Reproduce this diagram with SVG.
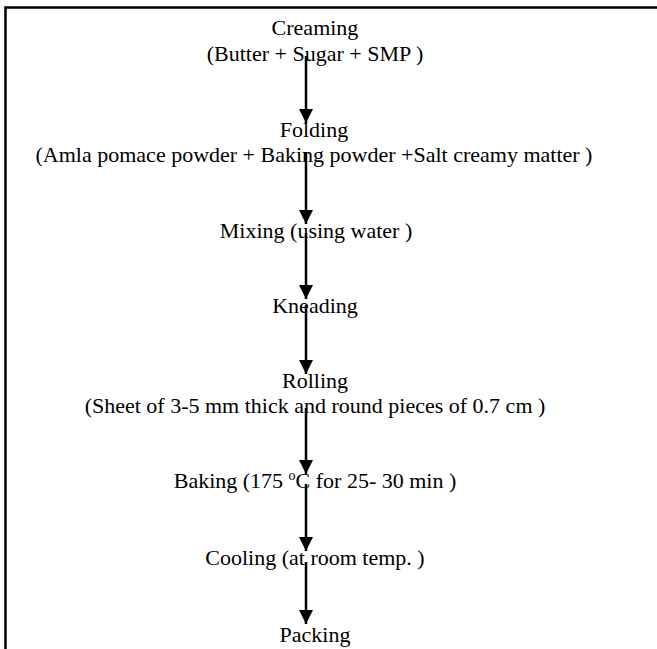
<svg xmlns="http://www.w3.org/2000/svg" width="657" height="649" viewBox="0 0 657 649">
<defs>
<marker id="ah" markerUnits="userSpaceOnUse" markerWidth="14" markerHeight="14" refX="14" refY="7" orient="auto">
<path d="M0,0 L14,7 L0,14 Z" fill="#000"/>
</marker>
<style>
text{font-family:"Liberation Serif","Times New Roman",serif;font-size:22px;fill:#000;text-anchor:middle}
.c{stroke:#000;stroke-width:2.5;fill:none}
</style>
</defs>
<rect width="657" height="649" fill="#fff"/>
<path d="M5.5,649 V7.5 H657" fill="none" stroke="#000" stroke-width="2.5"/>
<g id="connectors">
<line class="c" x1="306" y1="56" x2="306" y2="123" marker-end="url(#ah)"/>
<line class="c" x1="306" y1="152" x2="306" y2="224" marker-end="url(#ah)"/>
<line class="c" x1="306" y1="233" x2="306" y2="299" marker-end="url(#ah)"/>
<line class="c" x1="306" y1="305" x2="306" y2="374" marker-end="url(#ah)"/>
<line class="c" x1="306" y1="408" x2="306" y2="474" marker-end="url(#ah)"/>
<line class="c" x1="306" y1="484" x2="306" y2="551" marker-end="url(#ah)"/>
<line class="c" x1="306" y1="562" x2="306" y2="624" marker-end="url(#ah)"/>
</g>
<g id="creaming">
<text x="315" y="35">Creaming</text>
<text x="315" y="61">(Butter + Sugar + SMP )</text>
</g>
<g id="folding">
<text x="314" y="137">Folding</text>
<text x="314" y="162">(Amla pomace powder + Baking powder +Salt creamy matter )</text>
</g>
<g id="mixing">
<text x="316" y="238">Mixing (using water )</text>
</g>
<g id="kneading">
<text x="315" y="313">Kneading</text>
</g>
<g id="rolling">
<text x="315" y="388">Rolling</text>
<text x="315" y="413">(Sheet of 3-5 mm thick and round pieces of 0.7 cm )</text>
</g>
<g id="baking">
<text x="315" y="488">Baking (175 <tspan font-size="14" dy="-8">o</tspan><tspan dy="8">C for 25- 30 min )</tspan></text>
</g>
<g id="cooling">
<text x="315" y="565">Cooling (at room temp. )</text>
</g>
<g id="packing">
<text x="315" y="642">Packing</text>
</g>
</svg>
